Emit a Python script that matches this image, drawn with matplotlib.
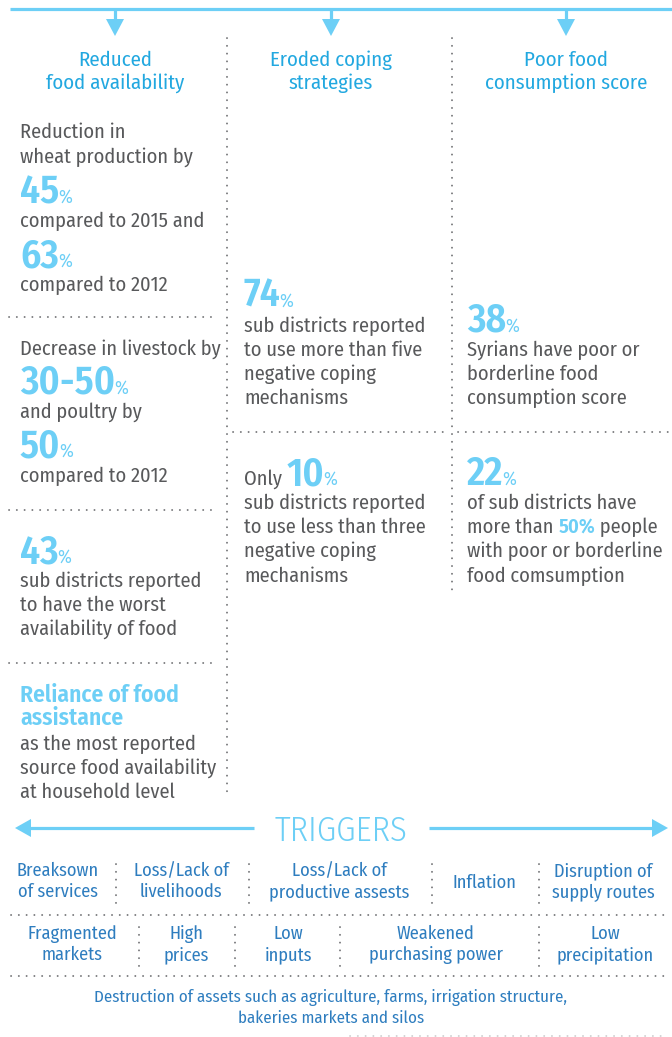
import matplotlib
matplotlib.use("Agg")
import matplotlib.pyplot as plt
from matplotlib.patches import Polygon

# ---------------- content ----------------
headers = ["Reduced\nfood availability", "Eroded coping\nstrategies", "Poor food\nconsumption score"]
header_x = [115, 331, 566]

# each block: list of lines; each line is list of (text, style)
col1_blocks = [
    [[("Reduction in", "body")], [("wheat production by", "body")],
     [("45", "num"), ("%", "pct")], [("compared to 2015 and", "body")],
     [("63", "num"), ("%", "pct")], [("compared to 2012", "body")]],
    [[("Decrease in livestock by", "body")], [("30-50", "num"), ("%", "pct")],
     [("and poultry by", "body")], [("50", "num"), ("%", "pct")],
     [("compared to 2012", "body")]],
    [[("43", "num"), ("%", "pct")], [("sub districts reported", "body")],
     [("to have the worst", "body")], [("availability of food", "body")]],
    [[("Reliance of food", "bold")], [("assistance", "bold")],
     [("as the most reported", "body")], [("source food availability", "body")],
     [("at household level", "body")]],
]
col1_baselines = [
    [138, 163, 203, 227, 267, 291],
    [355, 394, 418, 457, 482],
    [563, 587, 611, 635],
    [702, 725, 750, 774, 798],
]
col2_blocks = [
    [[("74", "num"), ("%", "pct")], [("sub districts reported", "body")],
     [("to use more than five", "body")], [("negative coping", "body")],
     [("mechanisms", "body")]],
    [[("Only ", "body"), ("10", "num"), ("%", "pct")], [("sub districts reported", "body")],
     [("to use less than three", "body")], [("negative coping", "body")],
     [("mechanisms", "body")]],
]
col2_baselines = [[307, 332, 356, 380, 404], [485, 509, 533, 557, 582]]
col3_blocks = [
    [[("38", "num"), ("%", "pct")], [("Syrians have poor or", "body")],
     [("borderline food", "body")], [("consumption score", "body")]],
    [[("22", "num"), ("%", "pct")], [("of sub districts have", "body")],
     [("more than ", "body"), ("50%", "hl"), (" people", "body")],
     [("with poor or borderline", "body")], [("food comsumption", "body")]],
]
col3_baselines = [[332, 356, 380, 404], [485, 509, 533, 557, 582]]

triggers_title = "TRIGGERS"
trig_row1 = ["Breaksown\nof services", "Loss/Lack of\nlivelihoods", "Loss/Lack of\nproductive assests",
             "Inflation", "Disruption of\nsupply routes"]
trig_row1_x = [58, 181, 339, 484, 603]
trig_row1_sep = [116, 249, 432, 539]
trig_row2 = ["Fragmented\nmarkets", "High\nprices", "Low\ninputs", "Weakened\npurchasing power",
             "Low\nprecipitation"]
trig_row2_x = [72, 186, 288, 436, 605]
trig_row2_sep = [139, 235, 340, 539]
trig_row3 = "Destruction of assets such as agriculture, farms, irrigation structure,\nbakeries markets and silos"

# ---------------- styles ----------------
CYAN = "#6dcff6"
HEAD = "#22a8e0"
TRIG = "#2e7dbf"
GRAY = "#58595b"
DOT = "#6d6e71"

FAM = ["Fira Sans Condensed", "Open Sans"]
REG = dict(family=FAM, stretch="condensed", weight=400)
LIGHT = dict(family=FAM, stretch="condensed", weight=300)
BOLD = dict(family=FAM, stretch="condensed", weight=600)

styles = {
    "body": dict(REG, size=14.7, color=GRAY),
    "num": dict(BOLD, size=28.5, color=CYAN),
    "pct": dict(REG, size=13.5, color=CYAN),
    "bold": dict(BOLD, size=17, color=CYAN),
    "hl": dict(BOLD, size=14.7, color=CYAN),
}

fig = plt.figure(figsize=(6.72, 10.37), dpi=100)
ax = fig.add_axes([0, 0, 1, 1])
ax.set_xlim(0, 672)
ax.set_ylim(1037, 0)
ax.axis("off")
renderer = fig.canvas.get_renderer()


def dotted(xs, ys, alpha=1.0):
    ax.plot(xs, ys, color=DOT, lw=1.3, linestyle=(0, (0.1, 4.2)),
            dash_capstyle="round", alpha=alpha)


def run_line(x0, y, segs):
    x = x0
    for txt, st in segs:
        t = ax.text(x, y, txt, ha="left", va="baseline", **styles[st])
        bb = t.get_window_extent(renderer)
        inv = ax.transData.inverted()
        (xa, _), (xb, _) = inv.transform([[bb.x0, bb.y0], [bb.x1, bb.y0]])
        x = x + (xb - xa)
        if st == "num":
            x -= 1


def draw_col(x0, blocks, baselines):
    for blk, bls in zip(blocks, baselines):
        for segs, y in zip(blk, bls):
            run_line(x0, y, segs)


# ---------------- top arrows ----------------
ax.plot([10, 672], [9, 9], color=CYAN, lw=2.3, solid_capstyle="butt")
for hx in header_x:
    ax.plot([hx, hx], [9, 21], color=CYAN, lw=2.3, solid_capstyle="butt")
    ax.add_patch(Polygon([[hx - 9, 19], [hx + 9, 19], [hx, 36]], closed=True,
                         facecolor=CYAN, edgecolor="none"))

for h, hx in zip(headers, header_x):
    l1, l2 = h.split("\n")
    ax.text(hx, 66, l1, ha="center", va="baseline", color=HEAD, size=15, **REG)
    ax.text(hx, 89, l2, ha="center", va="baseline", color=HEAD, size=15, **REG)

# ---------------- separators ----------------
dotted([227, 227], [38, 795])
dotted([452, 452], [38, 595])
for yy in [317, 510, 663]:
    dotted([9, 218], [yy, yy])
dotted([233, 446], [432, 432])
dotted([458, 668], [432, 432])

# ---------------- columns ----------------
draw_col(20, col1_blocks, col1_baselines)
draw_col(244, col2_blocks, col2_baselines)
draw_col(467, col3_blocks, col3_baselines)

# ---------------- triggers ----------------
TY = 828
ax.plot([254, 28], [TY, TY], color=CYAN, lw=2.3, solid_capstyle="butt")
ax.add_patch(Polygon([[15, TY], [31, TY - 9], [31, TY + 9]], closed=True,
                     facecolor=CYAN, edgecolor="none"))
ax.plot([429, 654], [TY, TY], color=CYAN, lw=2.3, solid_capstyle="butt")
ax.add_patch(Polygon([[668, TY], [652, TY - 9], [652, TY + 9]], closed=True,
                     facecolor=CYAN, edgecolor="none"))
ax.text(341, TY + 13, triggers_title, ha="center", va="baseline", color=CYAN, size=25, **LIGHT)

TS = 13.2
for txt, x in zip(trig_row1, trig_row1_x):
    lines = txt.split("\n")
    if len(lines) == 2:
        ax.text(x, 876, lines[0], ha="center", va="baseline", color=TRIG, size=TS, **REG)
        ax.text(x, 897, lines[1], ha="center", va="baseline", color=TRIG, size=TS, **REG)
    else:
        ax.text(x, 888, lines[0], ha="center", va="baseline", color=TRIG, size=TS, **REG)
for sx in trig_row1_sep:
    dotted([sx, sx], [864, 907])
dotted([11, 668], [915, 915])
for txt, x in zip(trig_row2, trig_row2_x):
    l1, l2 = txt.split("\n")
    ax.text(x, 939, l1, ha="center", va="baseline", color=TRIG, size=TS, **REG)
    ax.text(x, 960, l2, ha="center", va="baseline", color=TRIG, size=TS, **REG)
for sx in trig_row2_sep:
    dotted([sx, sx], [927, 968])
dotted([11, 668], [976, 976])
l1, l2 = trig_row3.split("\n")
ax.text(331, 1002, l1, ha="center", va="baseline", color=TRIG, size=12.2, **REG)
ax.text(331, 1023, l2, ha="center", va="baseline", color=TRIG, size=12.2, **REG)
dotted([350, 668], [1036, 1036], alpha=0.35)

fig.savefig("out.png", dpi=100)
